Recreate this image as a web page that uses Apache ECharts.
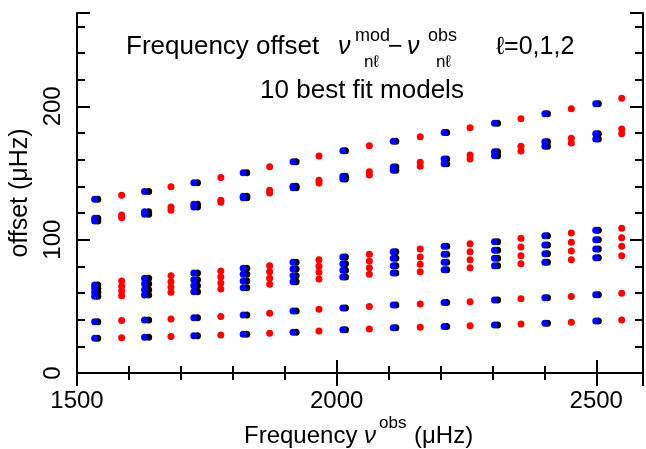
<!DOCTYPE html>
<html lang="en">
<head>
    <meta charset="UTF-8">
    <title>frequency offset</title>
    <script src="https://cdn.jsdelivr.net/npm/echarts/dist/echarts.min.js"></script>
    <style>
        html, body { margin: 0; padding: 0; background: #fff; }
    </style>
</head>
<body>
<div id="main" style="width: 646px;height:449px;"></div>

<script>
    // column frequencies (muHz)
    const blueFreq = [1534, 1630, 1725, 1820, 1916, 2012, 2109, 2207, 2304, 2401, 2499];
    const blackFreq = [1540, 1638, 1732, 1827, 1922, 2017, 2114, 2212, 2310, 2406, 2504];
    const redFreq = [1586, 1681, 1777, 1871, 1966, 2063, 2161, 2257, 2355, 2452, 2549];

    // offsets read per column, blue/black share the same values
    const blueTop = [130.4, 136.1, 142.6, 150.2, 158.4, 166.7, 173.9, 180.4, 187.4, 194.4, 202.0];
    const blueUpper = [[114, 116], [119, 121], [124.5, 126.5], [131.5, 132.5], [139, 140], [145.5, 147.5],
        [152, 154.5], [157, 160.5], [163, 166], [170, 173.5], [175.5, 179.5]];
    const blueMid = [[57.5, 60.5, 63.5, 66], [58.5, 62.5, 67, 71], [61, 65.5, 70, 75], [64, 69, 74, 78.5],
        [68.5, 73, 78, 83], [72, 77, 82, 87], [75, 80.5, 86, 91], [77.5, 83, 89, 95],
        [80.5, 86, 92, 98.5], [83, 89.5, 96, 103], [86.5, 93, 100, 107]];
    const blueLowA = [38.5, 39.8, 41.5, 43.5, 46.5, 48.8, 51, 52.8, 54.8, 56.5, 58.6];
    const blueLowB = [26, 26.8, 28, 29, 30.6, 32.5, 34, 34.8, 36, 37.3, 39];

    const redTop = [133.4, 139.6, 146.6, 154.7, 162.7, 170.4, 177.2, 183.9, 190.7, 198.2, 206.0];
    const redUpper = [[116.5, 118.5], [122, 124.5], [128, 129.5], [135, 137], [142.5, 144.5], [148.5, 151],
        [155, 158], [160.5, 163.5], [166.5, 170], [172.5, 176], [179.5, 183]];
    const redMid = [[58, 61.5, 65, 69], [60.5, 64.5, 68.5, 73], [63, 67.5, 72, 76.5], [66.5, 71, 76, 80.5],
        [70.5, 75.5, 80, 85], [74, 79, 84, 89], [76, 81.5, 87, 93], [79, 85, 91, 97],
        [82, 88, 94.5, 101], [85, 91.5, 98, 105], [88, 95, 101.5, 108.5]];
    const redLowA = [39.3, 40.5, 42.3, 44.8, 47.8, 49.8, 51.8, 53.5, 55.6, 57.3, 59.8];
    const redLowB = [26.5, 27.3, 28.5, 29.8, 31.5, 33, 34.3, 35.5, 36.8, 38, 39.8];

    const xTicks = [1500, 2000, 2500];
    const yTicks = [0, 100, 200];

    // collect points of one colour
    const points = function (freq, single, multi) {
        let out = [];
        freq.forEach(function (f, i) {
            single.forEach(function (row) { out.push([f, row[i]]); });
            multi.forEach(function (row) {
                row[i].forEach(function (v) { out.push([f, v]); });
            });
        });
        return out;
    };

    const blueData = points(blueFreq, [blueTop, blueLowA, blueLowB], [blueUpper, blueMid]);
    const blackData = points(blackFreq, [blueTop, blueLowA, blueLowB], [blueUpper, blueMid]);
    const redData = points(redFreq, [redTop, redLowA, redLowB], [redUpper, redMid]);

    const FONT = 'Liberation Sans';
    const line = {show: true, lineStyle: {color: '#000', width: 2}};

    const xAx = function (pos, interval, len, showLine, showLabel) {
        return {
            type: 'value', position: pos, min: 1500, max: 2590, interval: interval,
            axisLine: showLine ? line : {show: false},
            axisTick: {show: true, inside: true, length: len, lineStyle: {color: '#000', width: 2}},
            axisLabel: {
                show: showLabel, margin: 16, color: '#000', fontSize: 24, fontFamily: FONT,
                formatter: function (v) { return xTicks.indexOf(v) >= 0 ? String(v) : ''; }
            },
            splitLine: {show: false}
        };
    };
    const yAx = function (pos, interval, len, showLine, showLabel) {
        return {
            type: 'value', position: pos, min: 0, max: 270, interval: interval,
            axisLine: showLine ? line : {show: false},
            axisTick: {show: true, inside: true, length: len, lineStyle: {color: '#000', width: 2}},
            axisLabel: {
                show: showLabel, margin: 12, rotate: 90, color: '#000', fontSize: 24, fontFamily: FONT,
                formatter: function (v) { return yTicks.indexOf(v) >= 0 ? String(v) : ''; }
            },
            splitLine: {show: false},
            name: showLabel ? 'offset (\u03bcHz)' : '',
            nameLocation: 'middle', nameGap: 44,
            nameTextStyle: {color: '#000', fontSize: 25, fontFamily: FONT}
        };
    };

    const txt = function (s, x, y, size, align, italic) {
        return {
            type: 'text', x: x, y: y, silent: true,
            style: {
                text: s, fill: '#000', fontSize: size, fontFamily: FONT,
                fontStyle: italic ? 'italic' : 'normal',
                align: align || 'left', verticalAlign: 'middle'
            }
        };
    };

    const dot = function (name, color, data) {
        return {
            name: name, type: 'scatter', xAxisIndex: 0, yAxisIndex: 0,
            symbol: 'circle', symbolSize: 7, data: data,
            itemStyle: {color: color, opacity: 1}
        };
    };

    const myChart = echarts.init(document.getElementById('main'));
    myChart.setOption({
        animation: false,
        backgroundColor: '#fff',
        grid: {left: 73, top: 13, right: -2, bottom: 76},
        xAxis: [
            xAx('bottom', 100, 7, true, true),
            xAx('bottom', 500, 13, false, false),
            xAx('top', 100, 7, true, false),
            xAx('top', 500, 13, false, false)
        ],
        yAxis: [
            yAx('left', 20, 8, true, true),
            yAx('left', 100, 13, false, false),
            yAx('right', 20, 8, true, false),
            yAx('right', 100, 13, false, false)
        ],
        graphic: [
            txt('Frequency offset', 126, 47, 26),
            txt('\u03bd', 338, 47, 25, 'left', true),
            txt('mod', 355, 36, 18),
            txt('n\u2113', 364, 62, 17),
            txt('\u2212', 388, 47, 25),
            txt('\u03bd', 407, 47, 25, 'left', true),
            txt('obs', 428, 36, 18),
            txt('n\u2113', 436, 62, 17),
            txt('\u2113=0,1,2', 496, 47, 25),
            txt('10 best fit models', 362, 91, 26, 'center'),
            txt('Frequency', 244, 436, 24),
            txt('\u03bd', 364, 436, 24, 'left', true),
            txt('obs', 379, 423, 17),
            txt('(\u03bcHz)', 414, 436, 24)
        ],
        series: [
            dot('black', '#000000', blackData),
            dot('blue', '#0000ff', blueData),
            dot('red', '#ff0000', redData)
        ]
    });
</script>
</body>
</html>
